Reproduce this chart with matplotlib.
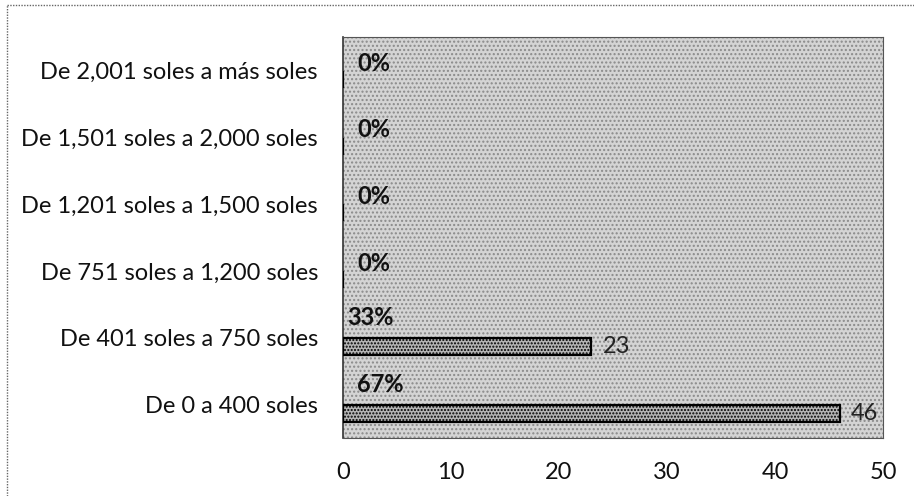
import matplotlib
matplotlib.use("Agg")
import matplotlib.pyplot as plt
from matplotlib.patches import Rectangle
from matplotlib.lines import Line2D

categories = ["De 0 a 400 soles", "De 401 soles a 750 soles", "De 751 soles a 1,200 soles",
              "De 1,201 soles a 1,500 soles", "De 1,501 soles a 2,000 soles", "De 2,001 soles a más soles"]
counts = [46, 23, 0, 0, 0, 0]
percents = ["67%", "33%", "0%", "0%", "0%", "0%"]
xticks = [0, 10, 20, 30, 40, 50]

plt.rcParams['font.family'] = ['Lato', 'DejaVu Sans']

fig = plt.figure(figsize=(9.14, 4.96), dpi=100)
ax = fig.add_axes([343/914, 1-438/496, 540/914, 401/496])

# plot area background
ax.set_facecolor('#d4d4d4')
bg = Rectangle((0, 0), 1, 1, transform=ax.transAxes, facecolor='none',
               edgecolor='#8a8a8a', hatch='....', linewidth=0, zorder=0.5)
ax.add_patch(bg)

ypos = list(range(len(categories)))
bar_off = -0.133
bars = ax.barh([y + bar_off for y in ypos], counts, height=0.255, color='#b5b5b5',
               edgecolor='black', linewidth=1.6, hatch='.....', zorder=3)

FS = 17
for y, c, p in zip(ypos, counts, percents):
    if c > 0:
        ax.annotate(str(c), (c, y + bar_off), xytext=(8, 0), textcoords='offset points',
                    va='center', ha='left', fontsize=FS, color='#222222', zorder=4)
        dy = 0.30
    else:
        dy = 0.11
    xoff = 3 if p == "33%" else 10
    ax.annotate(p, (0, y + dy), xytext=(xoff, 0), textcoords='offset points',
                va='center', ha='left', fontsize=FS, fontweight='bold', color='#111111', zorder=4)

ax.set_xlim(0, 50)
ax.set_ylim(-0.5, len(categories) - 0.5)
ax.set_xticks(xticks)
ax.set_xticklabels([str(t) for t in xticks])
ax.set_yticks(ypos)
ax.set_yticklabels(categories)
ax.tick_params(axis='both', length=0, labelsize=FS, colors='#111111')
ax.tick_params(axis='x', pad=17)
ax.tick_params(axis='y', pad=18)

for side in ['top', 'right', 'bottom']:
    ax.spines[side].set_linestyle((0, (2, 1)))
    ax.spines[side].set_color('#555555')
    ax.spines[side].set_linewidth(0.8)
ax.spines['left'].set_color('#333333')
ax.spines['left'].set_linewidth(1.2)
ax.spines['left'].set_linestyle((0, (2, 1)))

# figure border (dotted, top and left)
fig.add_artist(Line2D([7/914, 1], [1-5/496, 1-5/496], transform=fig.transFigure,
                      color='#666666', linewidth=1.0, linestyle=(0, (1, 1))))
fig.add_artist(Line2D([7/914, 7/914], [0, 1-5/496], transform=fig.transFigure,
                      color='#666666', linewidth=1.0, linestyle=(0, (1, 1))))

fig.savefig('out.png', dpi=100)
